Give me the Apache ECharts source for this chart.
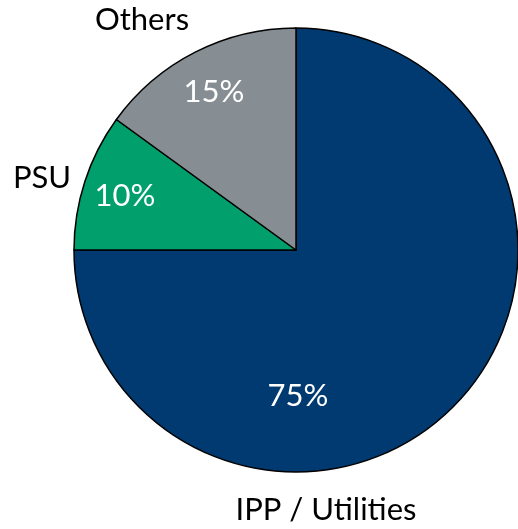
<!DOCTYPE html>
<html>
<head>
<meta charset="utf-8">
<script src="https://cdn.jsdelivr.net/npm/echarts@6/dist/echarts.min.js"></script>
<style>
  html, body { margin: 0; padding: 0; background: #fff; }
  #main { width: 518px; height: 529px; }
</style>
</head>
<body>
<div id="main"></div>
<script>
// data
var categories = ["IPP / Utilities", "PSU", "Others"];
var shares = [75, 10, 15];
var colors = ["#003A70", "#009F6B", "#868E93"];

// where the labels sit (pixels), per slice
var pctPos = [[298, 396], [125, 196], [214, 92]];
var namePos = [[326, 510], [42, 178], [142, 20]];

var chart = echarts.init(document.getElementById("main"));

var option = {
  animation: false,
  series: [
    {
      type: "pie",
      center: [296, 250],
      radius: [0, 222],
      startAngle: 90,
      clockwise: true,
      silent: true,
      avoidLabelOverlap: false,
      data: categories.map(function (c, i) {
        return { name: c, value: shares[i], itemStyle: { color: colors[i] } };
      }),
      itemStyle: { borderColor: "#000", borderWidth: 1.5 },
      label: {
        show: true,
        position: "inside",
        formatter: "{c}%",
        color: "#fff",
        fontFamily: "Lato",
        fontSize: 31
      },
      labelLine: { show: false },
      labelLayout: function (p) {
        return { x: pctPos[p.dataIndex][0], y: pctPos[p.dataIndex][1], align: "center", verticalAlign: "middle", hideOverlap: false };
      }
    },
    {
      // transparent copy used only for the category names
      type: "pie",
      center: [296, 250],
      radius: [0, 222],
      startAngle: 90,
      silent: true,
      avoidLabelOverlap: false,
      z: 3,
      data: categories.map(function (c, i) {
        return { name: c, value: shares[i] };
      }),
      itemStyle: { color: "rgba(0,0,0,0)", borderWidth: 0 },
      label: {
        show: true,
        position: "inside",
        formatter: "{b}",
        color: "#000",
        fontFamily: "Lato",
        fontSize: 31,
        overflow: "none"
      },
      labelLine: { show: false },
      labelLayout: function (p) {
        return { x: namePos[p.dataIndex][0], y: namePos[p.dataIndex][1], align: "center", verticalAlign: "middle", hideOverlap: false };
      }
    }
  ]
};

chart.setOption(option);
</script>
</body>
</html>
